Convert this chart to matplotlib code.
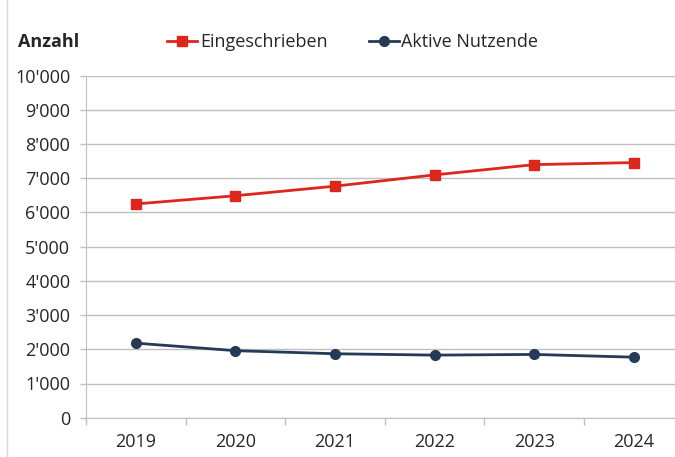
import matplotlib
matplotlib.use("Agg")
import matplotlib.pyplot as plt
from matplotlib.lines import Line2D
from matplotlib.ticker import FuncFormatter

years = ["2019", "2020", "2021", "2022", "2023", "2024"]
eingeschrieben = [6250, 6490, 6770, 7100, 7400, 7460]
aktive = [2180, 1960, 1870, 1830, 1850, 1770]
y_ticks = list(range(0, 10001, 1000))

red = "#DD261C"
navy = "#263A57"
grid_c = "#BFBFBF"
txt = "#262626"

plt.rcParams['font.family'] = ['Open Sans', 'DejaVu Sans']

W, H = 675, 457
fig = plt.figure(figsize=(W / 100, H / 100), dpi=100)
left, bottom_px, top_px, cat_w = 86, 417.7, 75.7, 99.6
ax = fig.add_axes([left / W, (H - bottom_px) / H, 6 * cat_w / W, (bottom_px - top_px) / H])

x = list(range(len(years)))
ax.plot(x, eingeschrieben, color=red, lw=2, marker="s", ms=7.5, label="Eingeschrieben")
ax.plot(x, aktive, color=navy, lw=2, marker="o", ms=7, label="Aktive Nutzende")

ax.set_xlim(-0.5, 5.5)
ax.set_ylim(0, 10000)
ax.set_yticks(y_ticks)
ax.yaxis.set_major_formatter(FuncFormatter(lambda v, p: f"{int(v):,}".replace(",", "'")))
ax.set_xticks(x)
ax.set_xticklabels(years)
ax.set_xticks([i - 0.5 for i in range(7)], minor=True)
ax.tick_params(axis="x", which="major", length=0, pad=11, labelsize=13, labelcolor=txt)
ax.tick_params(axis="x", which="minor", length=5, color=grid_c, width=1)
ax.tick_params(axis="y", length=4.3, color=grid_c, width=1, pad=7, labelsize=13, labelcolor=txt)
ax.grid(axis="y", color=grid_c, lw=1)
ax.set_axisbelow(True)
for s in ["top", "right"]:
    ax.spines[s].set_visible(False)
ax.spines["left"].set_color(grid_c)
ax.spines["bottom"].set_color(grid_c)

fig.text(18 / W, 1 - 42 / H, "Anzahl", fontsize=13, fontweight="bold", color=txt, va="center")
leg = fig.legend(handles=ax.get_lines(), loc="center left", bbox_to_anchor=(151 / W, 1 - 42 / H),
                 ncol=2, frameon=False, fontsize=13, handlelength=1.65, handletextpad=0.15,
                 columnspacing=2.3, labelcolor=txt)

fig.add_artist(Line2D([7 / W, 7 / W], [0, 1], color="#D9D9D9", lw=1, transform=fig.transFigure))

fig.savefig("out.png", dpi=100)
